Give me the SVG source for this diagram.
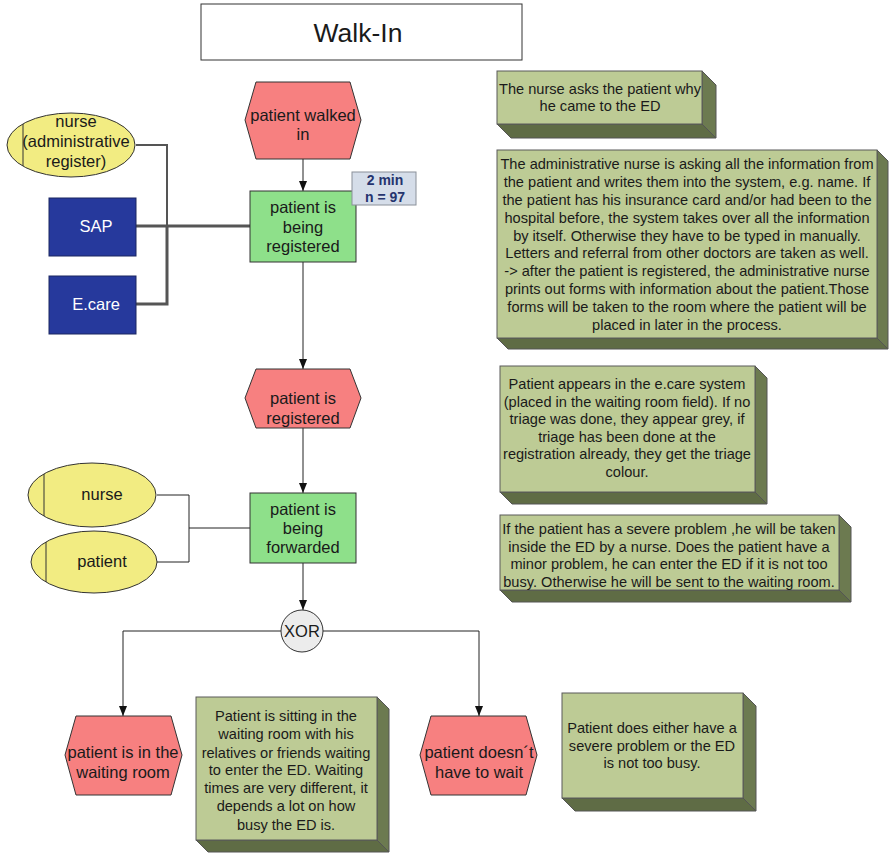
<svg xmlns="http://www.w3.org/2000/svg" width="889" height="854" viewBox="0 0 889 854">
  <style>
    text { font-family: "Liberation Sans", Arial, sans-serif; fill: #1a1a1a; }
    .t16 { font-size: 16.5px; text-anchor: middle; }
    .t14 { font-size: 14.6px; text-anchor: middle; }
    .event { fill: #f78080; stroke: #333; stroke-width: 1; }
    .func { fill: #8ee08a; stroke: #333; stroke-width: 1; }
    .org { fill: #f2ec82; stroke: #333; stroke-width: 1; }
    .sys { fill: #26399c; stroke: #1a2660; stroke-width: 1; }
    .face { fill: #bdcb95; stroke: #5a5a5a; stroke-width: 1; }
    .side { fill: #6c7a50; stroke: #555; stroke-width: 1; }
    .bottom { fill: #5f6c45; stroke: #555; stroke-width: 1; }
    .flow { fill: none; stroke: #222; stroke-width: 1; }
    .assoc { fill: none; stroke: #555; stroke-width: 3; }
    .thin { fill: none; stroke: #222; stroke-width: 1; }
  </style>
  <defs>
    <marker id="arrow" viewBox="0 0 10 10" refX="10" refY="5" markerWidth="10" markerHeight="10" markerUnits="userSpaceOnUse" orient="auto">
      <path d="M0,1 L10,5 L0,9 z" fill="#111"/>
    </marker>
  </defs>
  <rect width="889" height="854" fill="#fff"/>

  <!-- title -->
  <g id="title">
    <rect x="201" y="4" width="321" height="56" fill="#fff" stroke="#333" stroke-width="1"/>
    <text x="358" y="42" style="font-size:26.5px;text-anchor:middle">Walk-In</text>
  </g>

  <!-- connectors -->
  <g id="connectors">
    <path class="flow" d="M303,159 V191" marker-end="url(#arrow)"/>
    <path class="flow" d="M303,262 V369" marker-end="url(#arrow)"/>
    <path class="flow" d="M303,428 V493" marker-end="url(#arrow)"/>
    <path class="flow" d="M303,563 V610" marker-end="url(#arrow)"/>
    <path class="flow" d="M281,631 H123 V716" marker-end="url(#arrow)"/>
    <path class="flow" d="M323,631 H479 V716" marker-end="url(#arrow)"/>
    <path class="assoc" style="stroke-width:2" d="M136,145 H167 V226"/>
    <path class="assoc" d="M167,226 V304 H136"/>
    <path class="assoc" d="M136,226 H250"/>
    <path class="thin" d="M157,495 H189 V562 H157"/>
    <path class="thin" d="M189,528 H250"/>
  </g>

  <!-- events -->
  <g id="ev-walked-in">
    <polygon class="event" points="245,120 256,82 350,82 361,120 350,159 256,159"/>
    <text class="t16" x="303" y="121">patient walked</text>
    <text class="t16" x="303" y="140">in</text>
  </g>
  <g id="ev-registered">
    <polygon class="event" points="245,398 256,369 350,369 361,398 350,428 256,428"/>
    <text class="t16" x="303" y="404">patient is</text>
    <text class="t16" x="303" y="424">registered</text>
  </g>
  <g id="ev-waiting-room">
    <polygon class="event" points="65,755 76,716 171,716 182,755 171,795 76,795"/>
    <text class="t16" x="123" y="758">patient is in the</text>
    <text class="t16" x="123" y="778">waiting room</text>
  </g>
  <g id="ev-no-wait">
    <polygon class="event" points="420,755 431,716 526,716 537,755 526,795 431,795"/>
    <text class="t16" x="479" y="758">patient doesn´t</text>
    <text class="t16" x="479" y="778">have to wait</text>
  </g>

  <!-- functions -->
  <g id="fn-registering">
    <rect class="func" x="250" y="191" width="106" height="71"/>
    <text class="t16" x="303" y="213">patient is</text>
    <text class="t16" x="303" y="233">being</text>
    <text class="t16" x="303" y="252">registered</text>
  </g>
  <g id="time-badge">
    <rect x="352" y="172" width="64" height="33" fill="#d5dde9" stroke="#8a9099" stroke-width="1"/>
    <text x="385" y="185" style="font-size:14px;font-weight:bold;text-anchor:middle;fill:#25346e">2 min</text>
    <text x="385" y="202" style="font-size:14px;font-weight:bold;text-anchor:middle;fill:#25346e">n = 97</text>
  </g>
  <g id="fn-forwarding">
    <rect class="func" x="250" y="493" width="106" height="70"/>
    <text class="t16" x="303" y="515">patient is</text>
    <text class="t16" x="303" y="534">being</text>
    <text class="t16" x="303" y="553">forwarded</text>
  </g>

  <!-- organisational units -->
  <g id="org-admin-nurse">
    <ellipse class="org" cx="71" cy="145" rx="64" ry="32"/>
    <line x1="23" y1="124" x2="23" y2="166" stroke="#333"/>
    <text class="t16" x="76" y="127">nurse</text>
    <text class="t16" x="76" y="147">(administrative</text>
    <text class="t16" x="76" y="167">register)</text>
  </g>
  <g id="org-nurse">
    <ellipse class="org" cx="92" cy="495" rx="64" ry="32"/>
    <line x1="44" y1="474" x2="44" y2="516" stroke="#333"/>
    <text class="t16" x="102" y="500">nurse</text>
  </g>
  <g id="org-patient">
    <ellipse class="org" cx="94" cy="562" rx="63" ry="31"/>
    <line x1="46" y1="542" x2="46" y2="582" stroke="#333"/>
    <text class="t16" x="102" y="567">patient</text>
  </g>

  <!-- application systems -->
  <g id="sys-sap">
    <rect class="sys" x="49" y="198" width="87" height="58"/>
    <text class="t16" x="96" y="232" style="fill:#fff">SAP</text>
  </g>
  <g id="sys-ecare">
    <rect class="sys" x="49" y="276" width="87" height="58"/>
    <text class="t16" x="96" y="310" style="fill:#fff">E.care</text>
  </g>

  <!-- XOR connector -->
  <g id="xor">
    <circle cx="302" cy="631" r="21" fill="#ececec" stroke="#333"/>
    <text class="t16" x="302" y="637">XOR</text>
  </g>

  <!-- annotation blocks (raised boxes) -->
  <g id="note-why">
    <polygon class="side" points="702,71 716,85 716,138 702,124"/>
    <polygon class="bottom" points="497,124 702,124 716,138 511,138"/>
    <rect class="face" x="497" y="71" width="205" height="53"/>
    <text class="t14" x="600" y="94">The nurse asks the patient why</text>
    <text class="t14" x="600" y="111">he came to the ED</text>
  </g>
  <g id="note-admin">
    <polygon class="side" points="877,150 888,161 888,349 877,338"/>
    <polygon class="bottom" points="497,338 877,338 888,349 508,349"/>
    <rect class="face" x="497" y="150" width="380" height="188"/>
    <text class="t14" x="687" y="169">The administrative nurse is asking all the information from</text>
    <text class="t14" x="687" y="187">the patient and writes them into the system, e.g. name. If</text>
    <text class="t14" x="687" y="205">the patient has his insurance card and/or had been to the</text>
    <text class="t14" x="687" y="223">hospital before, the system takes over all the information</text>
    <text class="t14" x="687" y="241">by itself. Otherwise they have to be typed in manually.</text>
    <text class="t14" x="687" y="258">Letters and referral from other doctors are taken as well.</text>
    <text class="t14" x="687" y="276">-&gt; after the patient is registered, the administrative nurse</text>
    <text class="t14" x="687" y="294">prints out forms with information about the patient.Those</text>
    <text class="t14" x="687" y="312">forms will be taken to the room where the patient will be</text>
    <text class="t14" x="687" y="330">placed in later in the process.</text>
  </g>
  <g id="note-ecare">
    <polygon class="side" points="755,366 767,378 767,504 755,492"/>
    <polygon class="bottom" points="500,492 755,492 767,504 512,504"/>
    <rect class="face" x="500" y="366" width="255" height="126"/>
    <text class="t14" x="627" y="389">Patient appears in the e.care system</text>
    <text class="t14" x="627" y="407">(placed in the waiting room field). If no</text>
    <text class="t14" x="627" y="424">triage was done, they appear grey, if</text>
    <text class="t14" x="627" y="442">triage has been done at the</text>
    <text class="t14" x="627" y="459">registration already, they get the triage</text>
    <text class="t14" x="627" y="477">colour.</text>
  </g>
  <g id="note-severity">
    <polygon class="side" points="839,515 851,527 851,602 839,590"/>
    <polygon class="bottom" points="500,590 839,590 851,602 512,602"/>
    <rect class="face" x="500" y="515" width="339" height="75"/>
    <text class="t14" x="669" y="534">If the patient has a severe problem ,he will be taken</text>
    <text class="t14" x="669" y="552">inside the ED by a nurse. Does the patient have a</text>
    <text class="t14" x="669" y="569">minor problem, he can enter the ED if it is not too</text>
    <text class="t14" x="669" y="587">busy. Otherwise he will be sent to the waiting room.</text>
  </g>
  <g id="note-waiting">
    <polygon class="side" points="377,697 389,709 389,852 377,840"/>
    <polygon class="bottom" points="196,840 377,840 389,852 208,852"/>
    <rect class="face" x="196" y="697" width="181" height="143"/>
    <text class="t14" x="286" y="721">Patient is sitting in the</text>
    <text class="t14" x="286" y="739">waiting room with his</text>
    <text class="t14" x="286" y="758">relatives or friends waiting</text>
    <text class="t14" x="286" y="775">to enter the ED. Waiting</text>
    <text class="t14" x="286" y="793">times are very different, it</text>
    <text class="t14" x="286" y="811">depends a lot on how</text>
    <text class="t14" x="286" y="830">busy the ED is.</text>
  </g>
  <g id="note-no-wait">
    <polygon class="side" points="743,693 756,706 756,811 743,798"/>
    <polygon class="bottom" points="562,798 743,798 756,811 575,811"/>
    <rect class="face" x="562" y="693" width="181" height="105"/>
    <text class="t14" x="652" y="733">Patient does either have a</text>
    <text class="t14" x="652" y="751">severe problem or the ED</text>
    <text class="t14" x="652" y="768">is not too busy.</text>
  </g>
</svg>
